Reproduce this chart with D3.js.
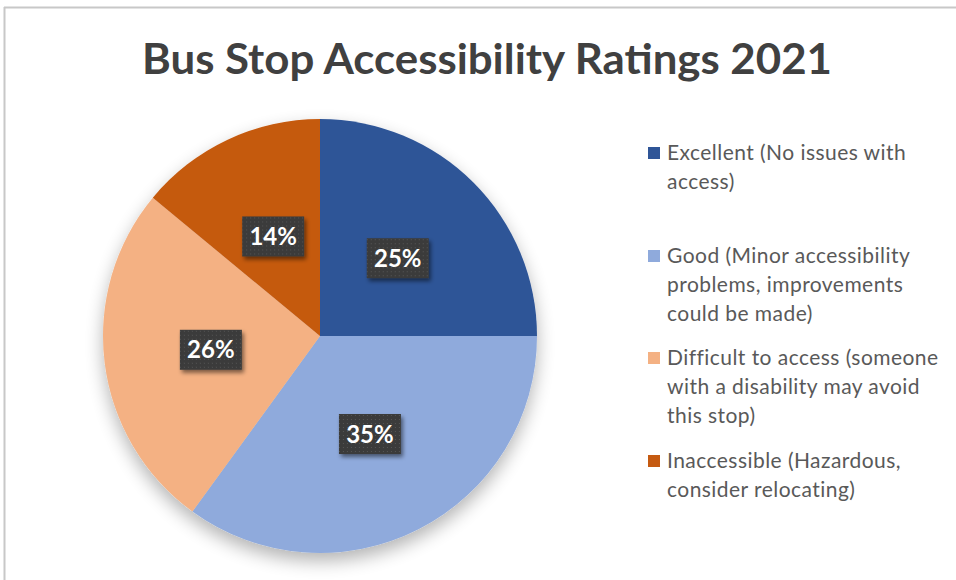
<!DOCTYPE html>
<html><head><meta charset="utf-8">
<script src="https://cdn.jsdelivr.net/npm/d3@7"></script>
<style>html,body{margin:0;padding:0;background:#fff;}svg{display:block;}</style>
</head><body>
<svg id="chart" width="956" height="580"></svg>
<script>
const categories = [
  "Excellent (No issues with access)",
  "Good (Minor accessibility problems, improvements could be made)",
  "Difficult to access (someone with a disability may avoid this stop)",
  "Inaccessible (Hazardous, consider relocating)"
];
const legendLines = [
  ["Excellent (No issues with", "access)"],
  ["Good (Minor accessibility", "problems, improvements", "could be made)"],
  ["Difficult to access (someone", "with a disability may avoid", "this stop)"],
  ["Inaccessible (Hazardous,", "consider relocating)"]
];
const values = [25, 35, 26, 14];
const colors = ["#2F5597", "#8FAADC", "#F4B183", "#C55A11"];
const title = "Bus Stop Accessibility Ratings 2021";

const svg = d3.select("#chart");
const defs = svg.append("defs");
const sh = defs.append("filter").attr("id","pieShadow").attr("x","-20%").attr("y","-20%").attr("width","140%").attr("height","150%");
sh.append("feGaussianBlur").attr("in","SourceAlpha").attr("stdDeviation",9).attr("result","b");
sh.append("feOffset").attr("in","b").attr("dx",0).attr("dy",8).attr("result","o");
sh.append("feComponentTransfer").attr("in","o").attr("result","o2").append("feFuncA").attr("type","linear").attr("slope",0.3);
const m1 = sh.append("feMerge"); m1.append("feMergeNode").attr("in","o2"); m1.append("feMergeNode").attr("in","SourceGraphic");

const ls = defs.append("filter").attr("id","lblShadow").attr("x","-30%").attr("y","-30%").attr("width","160%").attr("height","170%");
ls.append("feGaussianBlur").attr("in","SourceAlpha").attr("stdDeviation",2).attr("result","b");
ls.append("feOffset").attr("in","b").attr("dx",2).attr("dy",3).attr("result","o");
ls.append("feComponentTransfer").attr("in","o").attr("result","o2").append("feFuncA").attr("type","linear").attr("slope",0.5);
const m2 = ls.append("feMerge"); m2.append("feMergeNode").attr("in","o2"); m2.append("feMergeNode").attr("in","SourceGraphic");

const pat = defs.append("pattern").attr("id","dots").attr("width",4).attr("height",4).attr("patternUnits","userSpaceOnUse");
pat.append("rect").attr("width",4).attr("height",4).attr("fill","#3b3b3b");
pat.append("rect").attr("x",1).attr("y",1).attr("width",1).attr("height",1).attr("fill","#555");

// border
svg.append("line").attr("x1",4).attr("y1",7.5).attr("x2",956).attr("y2",7.5).attr("stroke","#c8c8c8").attr("stroke-width",2);
svg.append("line").attr("x1",4.5).attr("y1",7).attr("x2",4.5).attr("y2",580).attr("stroke","#c8c8c8").attr("stroke-width",2);

// title
const t = svg.append("text").attr("x",487).attr("y",74).attr("text-anchor","middle")
  .attr("font-family","Lato, 'Open Sans', sans-serif").attr("font-weight","bold").attr("font-size",42)
  .attr("fill","#404040").text(title);
const tw = t.node().getComputedTextLength();
if (Math.abs(tw-690) > 5) t.attr("textLength",690).attr("lengthAdjust","spacingAndGlyphs");

// pie
const cx = 320, cy = 336, R = 217;
const pie = d3.pie().sort(null).value(d => d);
const arcs = pie(values);
const arc = d3.arc().innerRadius(0).outerRadius(R);
const labelArc = d3.arc().innerRadius(220).outerRadius(0);
const g = svg.append("g").attr("transform",`translate(${cx},${cy})`);
g.append("g").attr("filter","url(#pieShadow)").selectAll("path").data(arcs).join("path")
  .attr("d",arc).attr("fill",(d,i)=>colors[i]);

const lg = g.selectAll("g.lbl").data(arcs).join("g").attr("class","lbl")
  .attr("transform",d=>{const c=labelArc.centroid(d);return `translate(${c[0]},${c[1]})`;});
lg.append("rect").attr("x",-31).attr("y",-20).attr("width",62).attr("height",40)
  .attr("fill","url(#dots)").attr("filter","url(#lblShadow)");
lg.append("text").attr("text-anchor","middle").attr("dy","0.36em")
  .attr("font-family","Lato, 'Open Sans', sans-serif").attr("font-weight","bold").attr("font-size",24)
  .attr("fill","#fff").text(d=>d.value+"%");

// legend
const legendY = [153, 256, 358, 461];
const lineH = 29;
const leg = svg.append("g");
legendLines.forEach((lines,i)=>{
  leg.append("rect").attr("x",648).attr("y",legendY[i]-6).attr("width",12).attr("height",12).attr("fill",colors[i]);
  const tx = leg.append("text").attr("x",667).attr("y",legendY[i])
    .attr("font-family","Lato, 'Open Sans', sans-serif").attr("font-size",21).attr("letter-spacing",0.45).attr("fill","#595959");
  lines.forEach((ln,j)=>{
    tx.append("tspan").attr("x",667).attr("y",legendY[i]+j*lineH).attr("dy","0.35em").text(ln);
  });
});
</script>
</body></html>
